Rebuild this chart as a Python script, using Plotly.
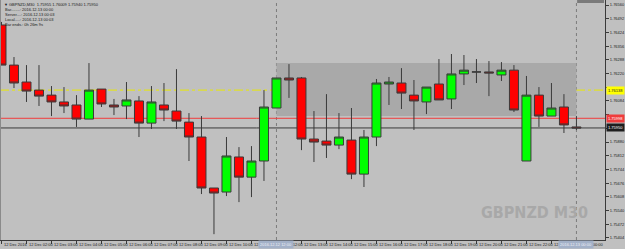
import plotly.graph_objects as go

# ---- data (GBPNZD M30, 12 Dec 2016 01:00 -> 13 Dec 2016 00:00) ----
bar_index = list(range(47))
opens = [1.76461, 1.76262, 1.76178, 1.76138, 1.76113, 1.76079, 1.76064, 1.75994, 1.76143, 1.76064,
         1.76059, 1.76084, 1.75974, 1.76064, 1.76034, 1.75979, 1.75905, 1.75652, 1.75632, 1.75806,
         1.75706, 1.75786, 1.76049, 1.76198, 1.76198, 1.75895, 1.75885, 1.75865, 1.75890, 1.75721,
         1.75905, 1.76168, 1.76173, 1.76113, 1.76079, 1.76168, 1.76094, 1.76218, 1.76228, 1.76228,
         1.76213, 1.76237, 1.75786, 1.76113, 1.76009, 1.76054, 1.75955]
highs = [1.76476, 1.76302, 1.76262, 1.76262, 1.76158, 1.76153, 1.76113, 1.76272, 1.76143, 1.76094,
         1.76178, 1.76108, 1.76158, 1.76173, 1.76242, 1.76024, 1.76009, 1.75652, 1.75905, 1.75855,
         1.75860, 1.76138, 1.76198, 1.76267, 1.76203, 1.76034, 1.76118, 1.76024, 1.76049, 1.75940,
         1.76193, 1.76203, 1.76247, 1.76188, 1.76153, 1.76292, 1.76317, 1.76312, 1.76292, 1.76282,
         1.76277, 1.76262, 1.76208, 1.76153, 1.76173, 1.76118, 1.76009]
lows = [1.76262, 1.76148, 1.76079, 1.76059, 1.76009, 1.76024, 1.75955, 1.75994, 1.76054, 1.76014,
        1.75994, 1.75905, 1.75945, 1.75984, 1.75945, 1.75786, 1.75622, 1.75423, 1.75612, 1.75582,
        1.75607, 1.75687, 1.76049, 1.76099, 1.75840, 1.75781, 1.75801, 1.75845, 1.75696, 1.75657,
        1.75860, 1.76064, 1.76044, 1.75940, 1.76019, 1.76089, 1.76044, 1.76163, 1.76173, 1.76108,
        1.76183, 1.76029, 1.75786, 1.75955, 1.76009, 1.75925, 1.75940]
closes = [1.76262, 1.76173, 1.76133, 1.76108, 1.76079, 1.76059, 1.75994, 1.76138, 1.76069, 1.76054,
          1.76089, 1.75974, 1.76079, 1.76039, 1.75984, 1.75905, 1.75652, 1.75627, 1.75811, 1.75706,
          1.75786, 1.76054, 1.76198, 1.76188, 1.75895, 1.75880, 1.75865, 1.75905, 1.75721, 1.75905,
          1.76173, 1.76178, 1.76123, 1.76084, 1.76153, 1.76089, 1.76218, 1.76237, 1.76228, 1.76223,
          1.76237, 1.76039, 1.76113, 1.76009, 1.76049, 1.75965, 1.75950]

y_tick_vals = [1.76560, 1.76492, 1.76424, 1.76356, 1.76288, 1.76220, 1.76152, 1.76084, 1.76016,
               1.75948, 1.75880, 1.75812, 1.75744, 1.75676, 1.75608, 1.75540, 1.75472, 1.75404]
# labels hidden behind the coloured price boxes are left blank
y_tick_hidden = [1.76152, 1.76016, 1.75948]
y_tick_text = ["" if v in y_tick_hidden else "%.5f" % v for v in y_tick_vals]

x_tick_idx = [0, 2, 4, 6, 8, 10, 12, 14, 16, 18, 20, 22, 24, 26, 28, 30, 32, 34, 36, 38, 40, 42, 44, 46]
x_tick_text = ["12 Dec 2016", "12 Dec 02:00", "12 Dec 03:00", "12 Dec 04:00", "12 Dec 05:00",
               "12 Dec 06:00", "12 Dec 07:00", "12 Dec 08:00", "12 Dec 09:00", "12 Dec 10:00",
               "12 Dec 11:00", "12 Dec 12:00", "12 Dec 13:00", "12 Dec 14:00", "12 Dec 15:00",
               "12 Dec 16:00", "12 Dec 17:00", "12 Dec 18:00", "12 Dec 19:00", "12 Dec 20:00",
               "12 Dec 21:00", "12 Dec 22:00", "12 Dec 23:00", "13 Dec 00:00"]

cursor_idx = [22, 46]
cursor_text = ["2016.12.12 12:00", "2016.12.13 00:00"]

level_yellow = 1.76138
level_red = 1.75998
level_bid = 1.75950
zone_x = [22, 46]
zone_y = [1.76009, 1.76272]

info_lines = ["GBPNZD,M30  1.75955 1.76009 1.75940 1.75950",
              "Bar........: 2016.12.13 00:00",
              "Server....: 2016.12.13 00:03",
              "Local.....: 2016.12.13 00:03",
              "Bar ends.: 0h 26m 9s"]

# ---- figure ----
W, H = 625, 249
ML, MR, MT, MB = 0, 17, 0, 9
PW, PH = W - ML - MR, H - MT - MB
BG = "#c0c0c0"
FONT = "Liberation Sans, Arial, sans-serif"

fig = go.Figure()
fig.add_trace(go.Candlestick(
    x=bar_index, open=opens, high=highs, low=lows, close=closes,
    increasing=dict(fillcolor="#00ff00", line=dict(color="#3a3a3a", width=1)),
    decreasing=dict(fillcolor="#ff0000", line=dict(color="#3a3a3a", width=1)),
    whiskerwidth=0, hoverinfo="skip", showlegend=False,
))

shapes = []
shapes.append(dict(type="rect", xref="x", yref="y", x0=zone_x[0], x1=zone_x[1],
                   y0=zone_y[0], y1=zone_y[1], fillcolor="#a9a9a9", line=dict(width=0), layer="below"))
for ci in cursor_idx:
    shapes.append(dict(type="line", xref="x", yref="paper", x0=ci, x1=ci, y0=0, y1=1,
                       line=dict(color="#7c7c7c", width=1, dash="dot"), layer="below"))
shapes.append(dict(type="line", xref="paper", yref="y", x0=0, x1=1, y0=level_yellow, y1=level_yellow,
                   line=dict(color="#e8e800", width=1, dash="dashdot"), layer="below"))
shapes.append(dict(type="line", xref="paper", yref="y", x0=0, x1=1, y0=level_red, y1=level_red,
                   line=dict(color="#f03c3c", width=1), layer="below"))
shapes.append(dict(type="line", xref="paper", yref="y", x0=0, x1=1, y0=level_bid, y1=level_bid,
                   line=dict(color="#3a3a3a", width=1), layer="below"))
shapes.append(dict(type="line", xref="paper", yref="paper", x0=0, x1=0, y0=0, y1=1,
                   line=dict(color="#8a8a8a", width=2)))
shapes.append(dict(type="rect", xref="paper", yref="paper", x0=580 / PW, x1=607 / PW,
                   y0=1 - 3 / PH, y1=1, fillcolor="#7a7a7a", line=dict(width=0)))

ann = []
ann.append(dict(text="<b>GBPNZD M30</b>", xref="paper", yref="paper", x=537 / PW, y=1 - 212 / PH,
                xanchor="center", yanchor="middle", showarrow=False,
                font=dict(family="DejaVu Sans Condensed, Liberation Sans Narrow, Arial", size=16, color="#a8a8a8")))
for k, t in enumerate(info_lines):
    xpix = 7 if k == 0 else 3
    ann.append(dict(text=t, xref="paper", yref="paper", x=xpix / PW, y=1 - (4.3 + 5 * k) / PH,
                    xanchor="left", yanchor="middle", showarrow=False,
                    font=dict(family=FONT, size=4, color="#1a1a1a")))
ann.append(dict(text="▼", xref="paper", yref="paper", x=2 / PW, y=1 - 4.3 / PH, xanchor="left",
                yanchor="middle", showarrow=False, font=dict(family=FONT, size=4, color="#1a1a1a")))
ylab = -4.5 / PH
for xi, t in zip(x_tick_idx, x_tick_text):
    ann.append(dict(text=t, xref="x", yref="paper", x=xi, y=ylab, xanchor="left", yanchor="middle",
                    xshift=1, showarrow=False, font=dict(family=FONT, size=4, color="#1a1a1a")))
for xi, t in zip(cursor_idx, cursor_text):
    ann.append(dict(text=t, xref="x", yref="paper", x=xi, y=ylab, xanchor="center", yanchor="middle",
                    showarrow=False, bgcolor="#a3b1c8", borderpad=1,
                    font=dict(family=FONT, size=4, color="#eef0f6")))
for val, bg, fg in [(level_yellow, "#ffff00", "#202020"), (level_red, "#f03c3c", "#ffffff"),
                    (level_bid, "#1e1e1e", "#ffffff")]:
    ann.append(dict(text="%.5f" % val, xref="paper", yref="y", x=1 + 1 / PW, y=val, xanchor="left",
                    yanchor="middle", showarrow=False, bgcolor=bg, borderpad=1,
                    font=dict(family=FONT, size=4, color=fg)))

fig.update_layout(
    width=W, height=H, margin=dict(l=ML, r=MR, t=MT, b=MB, pad=0),
    paper_bgcolor=BG, plot_bgcolor=BG, showlegend=False,
    boxgap=0, boxgroupgap=0.28,
    shapes=shapes, annotations=ann,
    xaxis=dict(range=[-0.1194, 48.285], rangeslider=dict(visible=False), showgrid=False, zeroline=False,
               tickmode="array", tickvals=x_tick_idx, showticklabels=False, ticks="outside", ticklen=3,
               tickcolor="#3a3a3a", showline=True, linecolor="#3a3a3a", linewidth=1, fixedrange=True),
    yaxis=dict(range=[1.75394, 1.76585], side="right", showgrid=False, zeroline=False,
               tickmode="array", tickvals=y_tick_vals, ticktext=y_tick_text, ticks="outside", ticklen=3,
               tickcolor="#3a3a3a", showline=True, linecolor="#3a3a3a", linewidth=1,
               tickfont=dict(family=FONT, size=4, color="#1a1a1a"), fixedrange=True),
)

fig.write_html("out.html", config={"displayModeBar": False})
